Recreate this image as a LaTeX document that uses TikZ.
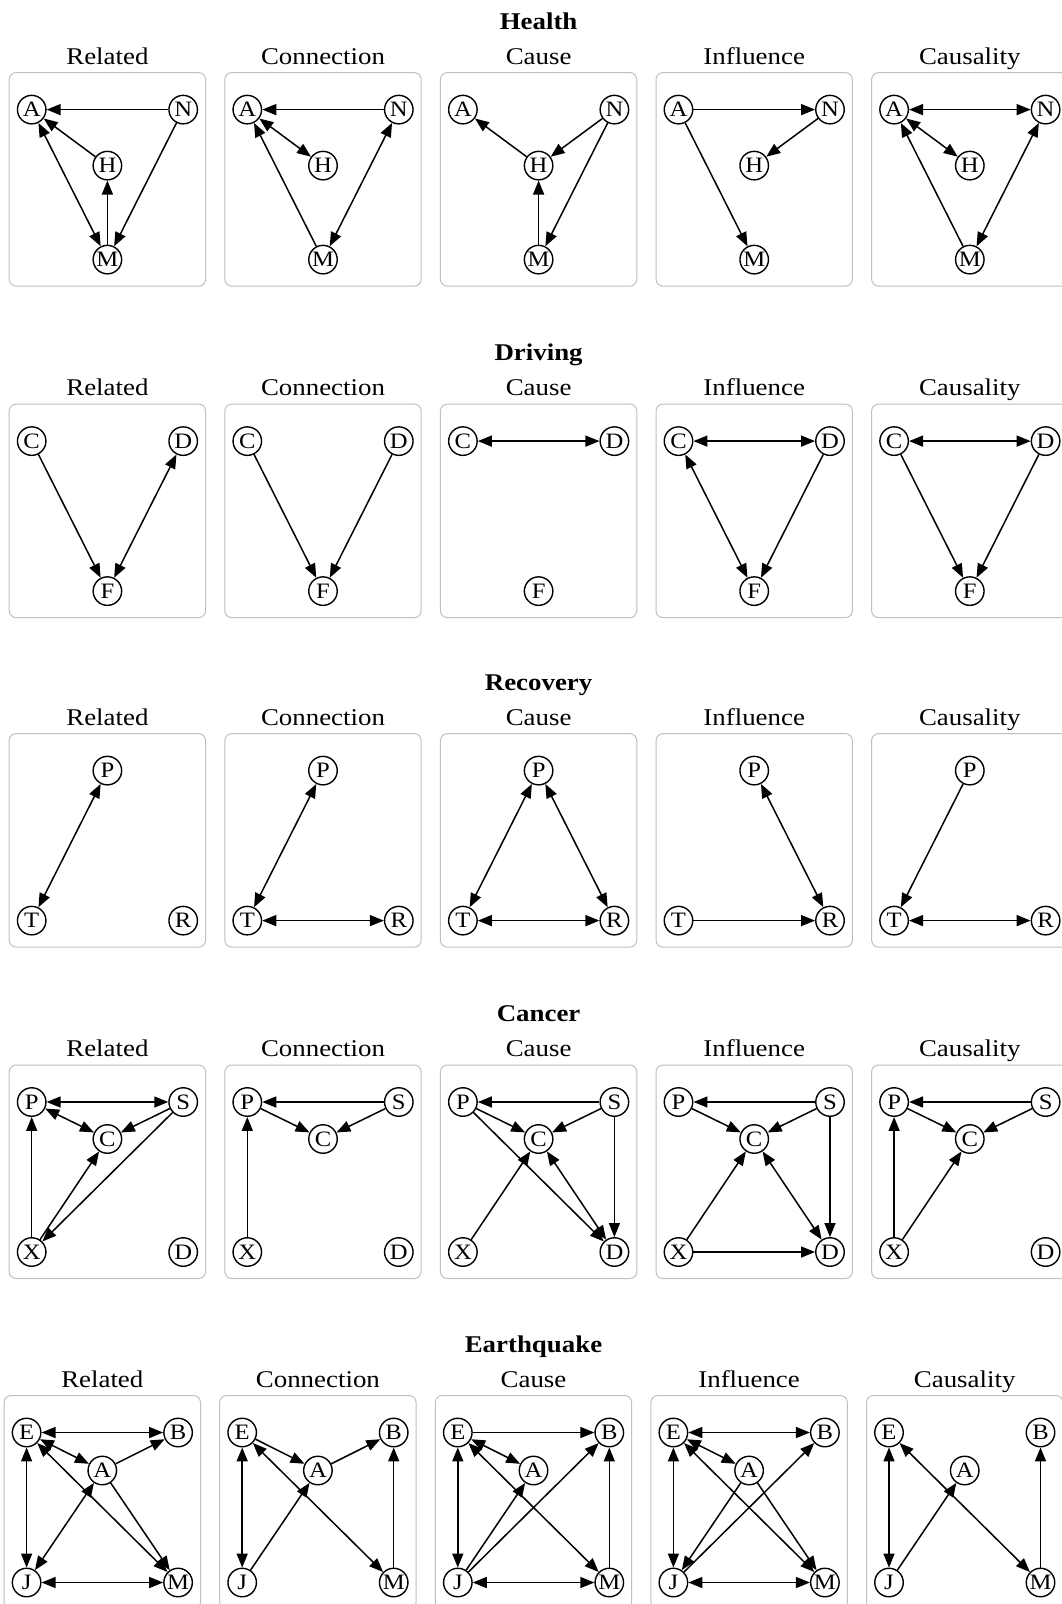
\documentclass[tikz,border=0pt]{standalone}
\usepackage{fontspec}
\setmainfont{Liberation Serif}[FakeStretch=1.12]
\usetikzlibrary{arrows.meta,positioning}

% panel frame with its caption
\newcommand{\panelframe}[1]{%
    \draw[panel] (0,0) rectangle (196.4,213.5);
    \node[subtitle] (title) at (98.2,-8.5) {#1};
}

% variables of each scenario
\newcommand{\healthvars}{%
    \node[var] (A) at (22.5,37) {A};
    \node[var] (N) at (174,37) {N};
    \node[var] (H) at (98.2,93) {H};
    \node[var] (M) at (98.2,187) {M};
}
\newcommand{\drivingvars}{%
    \node[var] (C) at (22.5,37) {C};
    \node[var] (D) at (174,37) {D};
    \node[var] (F) at (98.2,187) {F};
}
\newcommand{\recoveryvars}{%
    \node[var] (P) at (98.2,37) {P};
    \node[var] (T) at (22.5,187) {T};
    \node[var] (R) at (174,187) {R};
}
\newcommand{\cancervars}{%
    \node[var] (P) at (22.5,37) {P};
    \node[var] (S) at (174,37) {S};
    \node[var] (C) at (98.2,74) {C};
    \node[var] (X) at (22.5,187) {X};
    \node[var] (D) at (174,187) {D};
}
\newcommand{\quakevars}{%
    \node[var] (E) at (22.5,37) {E};
    \node[var] (B) at (174,37) {B};
    \node[var] (A) at (98.2,75) {A};
    \node[var] (J) at (22.5,187) {J};
    \node[var] (M) at (174,187) {M};
}

\begin{document}
\begin{tikzpicture}[
    x=1pt, y=-1pt,
    >={Triangle[length=14pt,width=11pt]},
    var/.style={
        circle,
        draw,
        fill=white,
        line width=1.4pt,
        minimum size=28.5pt,
        inner sep=0pt,
        font=\fontsize{22}{22}\selectfont
    },
    link/.style={line width=1.5pt},
    panel/.style={draw=black!25, line width=1pt, rounded corners=7pt},
    subtitle/.style={anchor=base, inner sep=0pt, font=\fontsize{24}{24}\selectfont},
    group/.style={anchor=base, inner sep=0pt, font=\bfseries\fontsize{24}{24}\selectfont}
]
    \useasboundingbox (0,0) rectangle (1061,1604);

    % Health
    \node[group] (health) at (538.6,29) {Health};
    \begin{scope}[shift={(9.2,72.6)}, name prefix=h1-]
        \panelframe{Related}
        \healthvars
        \draw[link,->] (N) -- (A);
        \draw[link,->] (H) -- (A);
        \draw[link,<->] (A) -- (M);
        \draw[link,->] (M) -- (H);
        \draw[link,->] (N) -- (M);
    \end{scope}
    \begin{scope}[shift={(224.8,72.6)}, name prefix=h2-]
        \panelframe{Connection}
        \healthvars
        \draw[link,->] (N) -- (A);
        \draw[link,<->] (A) -- (H);
        \draw[link,->] (M) -- (A);
        \draw[link,<->] (N) -- (M);
    \end{scope}
    \begin{scope}[shift={(440.4,72.6)}, name prefix=h3-]
        \panelframe{Cause}
        \healthvars
        \draw[link,->] (H) -- (A);
        \draw[link,->] (N) -- (H);
        \draw[link,->] (M) -- (H);
        \draw[link,->] (N) -- (M);
    \end{scope}
    \begin{scope}[shift={(656,72.6)}, name prefix=h4-]
        \panelframe{Influence}
        \healthvars
        \draw[link,->] (A) -- (N);
        \draw[link,->] (N) -- (H);
        \draw[link,->] (A) -- (M);
    \end{scope}
    \begin{scope}[shift={(871.6,72.6)}, name prefix=h5-]
        \panelframe{Causality}
        \healthvars
        \draw[link,<->] (A) -- (N);
        \draw[link,<->] (A) -- (H);
        \draw[link,->] (M) -- (A);
        \draw[link,<->] (N) -- (M);
    \end{scope}

    % Driving
    \node[group] (driving) at (538.6,360.5) {Driving};
    \begin{scope}[shift={(9.2,404.1)}, name prefix=d1-]
        \panelframe{Related}
        \drivingvars
        \draw[link,->] (C) -- (F);
        \draw[link,<->] (D) -- (F);
    \end{scope}
    \begin{scope}[shift={(224.8,404.1)}, name prefix=d2-]
        \panelframe{Connection}
        \drivingvars
        \draw[link,->] (C) -- (F);
        \draw[link,->] (D) -- (F);
    \end{scope}
    \begin{scope}[shift={(440.4,404.1)}, name prefix=d3-]
        \panelframe{Cause}
        \drivingvars
        \draw[link,<->] (C) -- (D);
    \end{scope}
    \begin{scope}[shift={(656,404.1)}, name prefix=d4-]
        \panelframe{Influence}
        \drivingvars
        \draw[link,<->] (C) -- (D);
        \draw[link,<->] (C) -- (F);
        \draw[link,->] (D) -- (F);
    \end{scope}
    \begin{scope}[shift={(871.6,404.1)}, name prefix=d5-]
        \panelframe{Causality}
        \drivingvars
        \draw[link,<->] (C) -- (D);
        \draw[link,->] (C) -- (F);
        \draw[link,->] (D) -- (F);
    \end{scope}

    % Recovery
    \node[group] (recovery) at (538.6,690) {Recovery};
    \begin{scope}[shift={(9.2,733.6)}, name prefix=r1-]
        \panelframe{Related}
        \recoveryvars
        \draw[link,<->] (P) -- (T);
    \end{scope}
    \begin{scope}[shift={(224.8,733.6)}, name prefix=r2-]
        \panelframe{Connection}
        \recoveryvars
        \draw[link,<->] (P) -- (T);
        \draw[link,<->] (T) -- (R);
    \end{scope}
    \begin{scope}[shift={(440.4,733.6)}, name prefix=r3-]
        \panelframe{Cause}
        \recoveryvars
        \draw[link,<->] (P) -- (T);
        \draw[link,<->] (P) -- (R);
        \draw[link,<->] (T) -- (R);
    \end{scope}
    \begin{scope}[shift={(656,733.6)}, name prefix=r4-]
        \panelframe{Influence}
        \recoveryvars
        \draw[link,<->] (P) -- (R);
        \draw[link,->] (T) -- (R);
    \end{scope}
    \begin{scope}[shift={(871.6,733.6)}, name prefix=r5-]
        \panelframe{Causality}
        \recoveryvars
        \draw[link,->] (P) -- (T);
        \draw[link,<->] (T) -- (R);
    \end{scope}

    % Cancer
    \node[group] (cancer) at (538.6,1021.5) {Cancer};
    \begin{scope}[shift={(9.2,1065)}, name prefix=c1-]
        \panelframe{Related}
        \cancervars
        \draw[link,<->] (P) -- (S);
        \draw[link,<->] (P) -- (C);
        \draw[link,->] (S) -- (C);
        \draw[link,->] (X) -- (P);
        \draw[link,->] (X) -- (C);
        \draw[link,->] (S) -- (X);
    \end{scope}
    \begin{scope}[shift={(224.8,1065)}, name prefix=c2-]
        \panelframe{Connection}
        \cancervars
        \draw[link,->] (S) -- (P);
        \draw[link,->] (P) -- (C);
        \draw[link,->] (S) -- (C);
        \draw[link,->] (X) -- (P);
    \end{scope}
    \begin{scope}[shift={(440.4,1065)}, name prefix=c3-]
        \panelframe{Cause}
        \cancervars
        \draw[link,->] (S) -- (P);
        \draw[link,->] (P) -- (C);
        \draw[link,->] (S) -- (C);
        \draw[link,->] (P) -- (D);
        \draw[link,->] (X) -- (C);
        \draw[link,<->] (C) -- (D);
        \draw[link,->] (S) -- (D);
    \end{scope}
    \begin{scope}[shift={(656,1065)}, name prefix=c4-]
        \panelframe{Influence}
        \cancervars
        \draw[link,->] (S) -- (P);
        \draw[link,->] (P) -- (C);
        \draw[link,->] (S) -- (C);
        \draw[link,->] (X) -- (C);
        \draw[link,<->] (C) -- (D);
        \draw[link,->] (S) -- (D);
        \draw[link,->] (X) -- (D);
    \end{scope}
    \begin{scope}[shift={(871.6,1065)}, name prefix=c5-]
        \panelframe{Causality}
        \cancervars
        \draw[link,->] (S) -- (P);
        \draw[link,->] (P) -- (C);
        \draw[link,->] (S) -- (C);
        \draw[link,->] (X) -- (P);
        \draw[link,->] (X) -- (C);
    \end{scope}

    % Earthquake
    \node[group] (quake) at (533.5,1352) {Earthquake};
    \begin{scope}[shift={(4.1,1395.5)}, name prefix=e1-]
        \panelframe{Related}
        \quakevars
        \draw[link,<->] (E) -- (B);
        \draw[link,<->] (E) -- (A);
        \draw[link,<->] (E) -- (J);
        \draw[link,->] (A) -- (B);
        \draw[link,<->] (A) -- (J);
        \draw[link,<->] (E) -- (M);
        \draw[link,->] (A) -- (M);
        \draw[link,<->] (J) -- (M);
    \end{scope}
    \begin{scope}[shift={(219.7,1395.5)}, name prefix=e2-]
        \panelframe{Connection}
        \quakevars
        \draw[link,->] (E) -- (A);
        \draw[link,->] (A) -- (B);
        \draw[link,<->] (E) -- (J);
        \draw[link,->] (J) -- (A);
        \draw[link,<->] (E) -- (M);
        \draw[link,->] (M) -- (B);
    \end{scope}
    \begin{scope}[shift={(435.3,1395.5)}, name prefix=e3-]
        \panelframe{Cause}
        \quakevars
        \draw[link,->] (E) -- (B);
        \draw[link,<->] (E) -- (A);
        \draw[link,<->] (E) -- (J);
        \draw[link,->] (J) -- (A);
        \draw[link,->] (J) -- (B);
        \draw[link,<->] (E) -- (M);
        \draw[link,<->] (J) -- (M);
        \draw[link,->] (M) -- (B);
    \end{scope}
    \begin{scope}[shift={(650.9,1395.5)}, name prefix=e4-]
        \panelframe{Influence}
        \quakevars
        \draw[link,<->] (E) -- (B);
        \draw[link,<->] (E) -- (A);
        \draw[link,<->] (E) -- (J);
        \draw[link,->] (A) -- (J);
        \draw[link,->] (J) -- (B);
        \draw[link,<->] (E) -- (M);
        \draw[link,->] (A) -- (M);
        \draw[link,<->] (J) -- (M);
    \end{scope}
    \begin{scope}[shift={(866.5,1395.5)}, name prefix=e5-]
        \panelframe{Causality}
        \quakevars
        \draw[link,<->] (E) -- (J);
        \draw[link,->] (J) -- (A);
        \draw[link,<->] (E) -- (M);
        \draw[link,->] (M) -- (B);
    \end{scope}
\end{tikzpicture}
\end{document}
